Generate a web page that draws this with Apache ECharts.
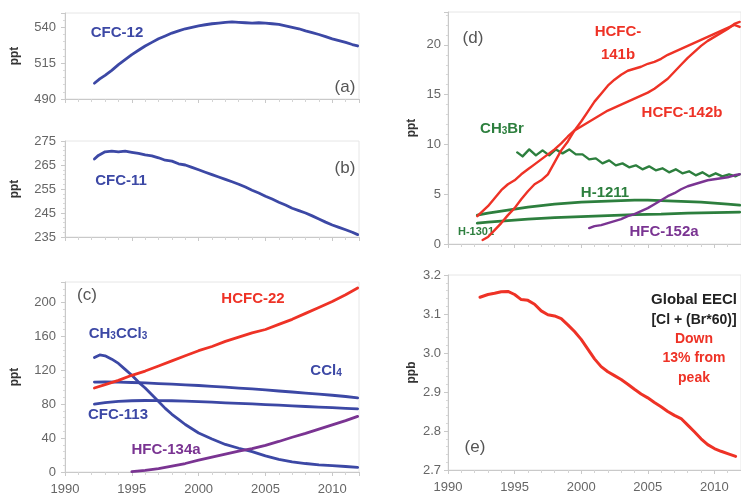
<!DOCTYPE html>
<html>
<head>
<meta charset="utf-8">
<script src="https://cdn.jsdelivr.net/npm/echarts@6/dist/echarts.min.js"></script>
<style>
  html, body { margin: 0; padding: 0; background: #ffffff; }
  #chart { width: 741px; height: 497px; }
</style>
</head>
<body>
<div id="chart"></div>
<script>
// Mole fractions of ozone-depleting gases and their substitutes, global means.
// Each series is a list of [year, value] pairs.

const yearTicks = [1990, 1995, 2000, 2005, 2010];

// (a) CFC-12, ppt
const cfc12 = [[1992.2,501],[1992.6,504],[1993,506.5],[1993.5,510],[1994,514],[1994.5,517.5],[1995,521],[1995.5,524],[1996,527],[1996.5,529.5],[1997,532],[1997.5,534],[1998,536],[1998.5,537.5],[1999,539],[1999.5,540],[2000,541],[2000.5,541.8],[2001,542.5],[2001.5,543],[2002,543.5],[2002.5,543.8],[2003,543.5],[2003.5,543.2],[2004,543],[2004.5,543.2],[2005,543],[2005.5,542.5],[2006,542],[2006.5,541],[2007,540],[2007.5,539],[2008,537.5],[2008.5,536.3],[2009,535],[2009.5,533.5],[2010,532],[2010.5,530.8],[2011,529.5],[2011.5,528],[2011.9,527]];

// (b) CFC-11, ppt
const cfc11 = [[1992.2,267.5],[1992.5,269],[1993,270.5],[1993.5,270.8],[1994,270.5],[1994.5,270.8],[1995,270.3],[1995.5,269.8],[1996,269.2],[1996.5,268.8],[1997,268],[1997.5,267],[1998,266.6],[1998.5,265.5],[1999,265],[1999.5,264],[2000,263],[2000.5,262],[2001,261],[2001.5,260],[2002,259],[2002.5,258],[2003,257],[2003.5,255.8],[2004,254.5],[2004.5,253.3],[2005,252],[2005.5,250.8],[2006,249.5],[2006.5,248.3],[2007,247],[2007.5,246],[2008,245],[2008.5,243.8],[2009,242.5],[2009.5,241.2],[2010,240],[2010.5,239],[2011,238],[2011.5,237],[2011.9,236]];

// (c) ppt
const hcfc22 = [[1992.2,99],[1993,103],[1994,108],[1995,114],[1996,119],[1997,125],[1998,131],[1999,137],[2000,143],[2001,148],[2002,154],[2003,159],[2004,164],[2005,168],[2006,174],[2007,180],[2008,187],[2009,194],[2010,201],[2011,209],[2011.9,217]];
const ch3ccl3 = [[1992.2,135],[1992.6,138],[1993,137],[1993.5,133],[1994,128],[1994.5,121],[1995,114],[1995.5,106],[1996,99],[1996.5,91],[1997,83],[1997.5,75],[1998,68],[1998.5,62],[1999,56],[1999.5,51],[2000,46],[2001,39],[2002,32.5],[2003,28],[2004,24],[2005,19],[2006,15],[2007,12],[2008,10],[2009,8.5],[2010,7.5],[2011,6.5],[2011.9,5.5]];
const ccl4 = [[1992.2,106],[1993,106.2],[1994,106],[1995,105.5],[1996,105],[1997,104.3],[1998,103.5],[1999,102.8],[2000,102],[2001,101],[2002,100],[2003,99],[2004,98],[2005,96.8],[2006,95.5],[2007,94.3],[2008,93],[2009,91.8],[2010,90.5],[2011,89],[2011.9,87.5]];
const cfc113 = [[1992.2,80],[1993,81.8],[1994,83.3],[1995,84],[1996,84.3],[1997,84.2],[1998,84],[1999,83.5],[2000,83],[2001,82.3],[2002,81.6],[2003,80.9],[2004,80.2],[2005,79.5],[2006,78.8],[2007,78],[2008,77.2],[2009,76.5],[2010,75.8],[2011,75.1],[2011.9,74.5]];
const hfc134a = [[1995,0.5],[1996,2],[1997,4],[1998,7],[1999,10],[2000,14],[2001,17.5],[2002,21],[2003,24.5],[2004,27.5],[2005,31.5],[2006,36],[2007,41],[2008,45.5],[2009,50.5],[2010,55.5],[2011,60.5],[2011.9,65.5]];

// (d) ppt
const hcfc141b = [[1992.6,0.4],[1993,0.7],[1993.5,1.4],[1994,2.1],[1994.5,2.9],[1995,3.6],[1995.5,4.5],[1996,5.3],[1996.5,6],[1997,6.4],[1997.5,7],[1998,8.2],[1998.5,9.4],[1999,10.3],[1999.5,11.4],[2000,12.3],[2000.5,13.3],[2001,14.3],[2001.5,15.1],[2002,15.9],[2002.5,16.5],[2003,17],[2003.5,17.4],[2004,17.6],[2004.5,17.8],[2005,18.1],[2005.5,18.3],[2006,18.6],[2006.5,19],[2007,19.3],[2007.5,19.6],[2008,19.9],[2008.5,20.2],[2009,20.5],[2009.5,20.8],[2010,21.1],[2010.5,21.4],[2011,21.7],[2011.5,22],[2011.9,21.8]];
const hcfc142b = [[1992.2,2.8],[1993,3.8],[1993.5,4.6],[1994,5.4],[1994.5,6],[1995,6.4],[1995.5,7],[1996,7.5],[1996.5,8],[1997,8.5],[1997.5,9],[1998,9.5],[1998.5,10.1],[1999,10.8],[1999.5,11.4],[2000,11.8],[2000.5,12.2],[2001,12.6],[2001.5,13],[2002,13.4],[2002.5,13.7],[2003,14],[2003.5,14.3],[2004,14.6],[2004.5,14.9],[2005,15.2],[2005.5,15.6],[2006,16.1],[2006.5,16.6],[2007,17.3],[2007.5,18],[2008,18.7],[2008.5,19.3],[2009,19.9],[2009.5,20.4],[2010,20.8],[2010.5,21.2],[2011,21.6],[2011.5,22.1],[2011.9,22.3]];
const ch3br = [[1995.2,9.2],[1995.6,8.8],[1996.1,9.5],[1996.6,8.9],[1997.1,9.4],[1997.6,8.9],[1998.1,9.5],[1998.6,9.1],[1999.1,9.5],[1999.6,9.0],[2000.1,9.0],[2000.6,8.5],[2001.1,8.6],[2001.6,8.1],[2002.1,8.4],[2002.6,7.9],[2003.1,8.1],[2003.6,7.7],[2004.1,7.9],[2004.6,7.5],[2005.1,7.8],[2005.6,7.4],[2006.1,7.6],[2006.6,7.2],[2007.1,7.5],[2007.6,7.1],[2008.1,7.3],[2008.6,6.9],[2009.1,7.2],[2009.6,6.8],[2010.1,7.1],[2010.6,6.8],[2011.1,7.0],[2011.6,6.8],[2011.9,7.0]];
const h1211 = [[1992.2,2.9],[1993,3.1],[1994,3.3],[1995,3.5],[1996,3.7],[1997,3.85],[1998,4.0],[1999,4.1],[2000,4.2],[2001,4.25],[2002,4.3],[2003,4.35],[2004,4.4],[2005,4.4],[2006,4.35],[2007,4.3],[2008,4.25],[2009,4.2],[2010,4.1],[2011,4.0],[2011.9,3.9]];
const h1301 = [[1992.2,2.1],[1993,2.2],[1994,2.3],[1995,2.4],[1996,2.5],[1997,2.58],[1998,2.65],[1999,2.7],[2000,2.75],[2001,2.8],[2002,2.85],[2003,2.9],[2004,2.95],[2005,2.98],[2006,3.0],[2007,3.05],[2008,3.1],[2009,3.12],[2010,3.15],[2011,3.18],[2011.9,3.2]];
const hfc152a = [[2000.6,1.6],[2001,1.8],[2001.5,1.9],[2002,2.1],[2002.5,2.3],[2003,2.5],[2003.5,2.8],[2004,3.0],[2004.5,3.3],[2005,3.6],[2005.5,4.0],[2006,4.4],[2006.5,4.8],[2007,5.1],[2007.5,5.5],[2008,5.8],[2008.5,6.0],[2009,6.2],[2009.5,6.4],[2010,6.5],[2010.5,6.6],[2011,6.7],[2011.5,6.9],[2011.9,7.0]];

// (e) Global EECl, ppb
const eecl = [[1992.4,3.143],[1993,3.150],[1993.5,3.153],[1994,3.157],[1994.5,3.158],[1995,3.150],[1995.5,3.137],[1996,3.135],[1996.5,3.125],[1997,3.108],[1997.5,3.098],[1998,3.095],[1998.5,3.088],[1999,3.072],[1999.5,3.055],[2000,3.035],[2000.5,3.01],[2001,2.985],[2001.5,2.965],[2002,2.952],[2002.5,2.942],[2003,2.932],[2003.5,2.92],[2004,2.907],[2004.5,2.895],[2005,2.885],[2005.5,2.873],[2006,2.862],[2006.5,2.85],[2007,2.84],[2007.5,2.832],[2008,2.815],[2008.5,2.798],[2009,2.78],[2009.5,2.765],[2010,2.755],[2010.5,2.748],[2011,2.742],[2011.6,2.735]];

const FONT = '"Liberation Sans", Arial, sans-serif';
const BLUE = '#3c48a5';
const RED = '#ee3226';
const GREEN = '#2d7f3e';
const PURPLE = '#7a3492';
const AXIS_GRAY = '#c9c9c9';

const chart = echarts.init(document.getElementById('chart'));

function grid(left, top, width, height) {
  return { left, top, width, height, show: true, borderColor: '#e6e6e6', borderWidth: 1, backgroundColor: 'transparent' };
}

function xAxis(gridIndex, showLabels) {
  return {
    type: 'value', gridIndex, min: yearTicks[0], max: 2012, interval: 5,
    axisLine: { show: true, lineStyle: { color: AXIS_GRAY, width: 1 } },
    axisTick: { show: true, length: 4, lineStyle: { color: AXIS_GRAY } },
    minorTick: { show: true, splitNumber: 5, length: 3, lineStyle: { color: '#d4d4d4' } },
    splitLine: { show: false },
    axisLabel: {
      show: showLabels, showMaxLabel: false, color: '#666', fontSize: 13,
      fontFamily: FONT, margin: 11,
      formatter: v => (yearTicks.indexOf(v) >= 0 ? String(v) : '')
    }
  };
}

// showTop: whether the top bound of the axis is itself a labelled tick
function yAxis(gridIndex, min, max, interval, name, gap, margin, digits, showTop) {
  return {
    type: 'value', gridIndex, min, max, interval,
    name, nameLocation: 'middle', nameRotate: 90, nameGap: gap,
    nameTextStyle: { color: '#333', fontSize: 12, fontWeight: 'bold', fontFamily: FONT },
    axisLine: { show: true, lineStyle: { color: AXIS_GRAY, width: 1 } },
    axisTick: { show: true, length: 4, lineStyle: { color: AXIS_GRAY } },
    minorTick: { show: true, splitNumber: 5, length: 2, lineStyle: { color: '#d8d8d8' } },
    splitLine: { show: false },
    axisLabel: {
      color: '#666', fontSize: 13, fontFamily: FONT, margin, showMaxLabel: showTop,
      formatter: v => v.toFixed(digits)
    }
  };
}

function line(data, color, xi, width) {
  return {
    type: 'line', data, xAxisIndex: xi, yAxisIndex: xi,
    showSymbol: false, smooth: false, silent: true, animation: false,
    lineStyle: { color, width: width || 2.8, join: 'round', cap: 'round' }
  };
}

function label(x, y, text, color, size, weight) {
  return {
    type: 'text', x, y, silent: true,
    style: {
      text, fill: color, align: 'center', verticalAlign: 'middle',
      font: (weight || 'bold') + ' ' + (size || 15) + 'px ' + FONT
    }
  };
}

// Chemical formulae with subscript digits, e.g. CH3CCl3 -> CH{s|3}CCl{s|3}
function formula(x, y, parts, color) {
  const rich = {
    n: { fontSize: 15, fontWeight: 'bold', fontFamily: FONT, fill: color, lineHeight: 15, verticalAlign: 'top' },
    s: { fontSize: 10, fontWeight: 'bold', fontFamily: FONT, fill: color, lineHeight: 10, verticalAlign: 'bottom', padding: [7, 0, 0, 0] }
  };
  const text = parts.map(p => (/^\d+$/.test(p) ? '{s|' + p + '}' : '{n|' + p + '}')).join('');
  return {
    type: 'text', x, y, silent: true,
    style: { text, rich, align: 'center', verticalAlign: 'middle' }
  };
}

const option = {
  backgroundColor: '#ffffff',
  animation: false,
  grid: [
    grid(65, 13, 294, 86),
    grid(65, 141, 294, 96),
    grid(65, 282, 294, 190),
    grid(448, 12, 296, 232),
    grid(448, 275, 296, 195)
  ],
  xAxis: [
    xAxis(0, false),
    xAxis(1, false),
    xAxis(2, true),
    xAxis(3, false),
    xAxis(4, true)
  ],
  yAxis: [
    yAxis(0, 490, 550, 25, 'ppt', 44, 9, 0, false),
    yAxis(1, 235, 275, 10, 'ppt', 44, 9, 0, true),
    yAxis(2, 0, 224, 40, 'ppt', 44, 9, 0, false),
    yAxis(3, 0, 23.3, 5, 'ppt', 30, 7, 0, false),
    yAxis(4, 2.7, 3.2, 0.1, 'ppb', 30, 7, 1, true)
  ],
  series: [
    line(cfc12, BLUE, 0),
    line(cfc11, BLUE, 1),
    line(ccl4, BLUE, 2),
    line(cfc113, BLUE, 2),
    line(ch3ccl3, BLUE, 2),
    line(hfc134a, PURPLE, 2),
    line(hcfc22, RED, 2),
    line(h1211, GREEN, 3),
    line(h1301, GREEN, 3),
    line(ch3br, GREEN, 3, 2.4),
    line(hfc152a, PURPLE, 3, 2.4),
    line(hcfc142b, RED, 3, 2.4),
    line(hcfc141b, RED, 3, 2.4),
    line(eecl, RED, 4, 3)
  ],
  graphic: [
    // (a)
    label(117, 33, 'CFC-12', BLUE),
    label(345, 87, '(a)', '#555', 17, 'normal'),
    // (b)
    label(121, 181, 'CFC-11', BLUE),
    label(345, 168, '(b)', '#555', 17, 'normal'),
    // (c)
    label(87, 295, '(c)', '#555', 17, 'normal'),
    label(253, 299, 'HCFC-22', RED),
    formula(118, 334, ['CH', '3', 'CCl', '3'], BLUE),
    formula(326, 371, ['CCl', '4'], BLUE),
    label(118, 415, 'CFC-113', BLUE),
    label(166, 450, 'HFC-134a', PURPLE),
    // (d)
    label(473, 38, '(d)', '#555', 17, 'normal'),
    label(618, 32, 'HCFC-', RED),
    label(618, 55, '141b', RED),
    label(682, 113, 'HCFC-142b', RED),
    formula(502, 129, ['CH', '3', 'Br'], GREEN),
    label(605, 193, 'H-1211', GREEN),
    label(476, 232, 'H-1301', GREEN, 11),
    label(664, 232, 'HFC-152a', PURPLE),
    // (e)
    label(475, 447, '(e)', '#555', 17, 'normal'),
    label(694, 300, 'Global EECl', '#222', 15),
    label(694, 320, '[Cl + (Br*60)]', '#222', 14),
    label(694, 339, 'Down', RED, 14),
    label(694, 358, '13% from', RED, 14),
    label(694, 378, 'peak', RED, 14)
  ]
};

chart.setOption(option);
</script>
</body>
</html>
